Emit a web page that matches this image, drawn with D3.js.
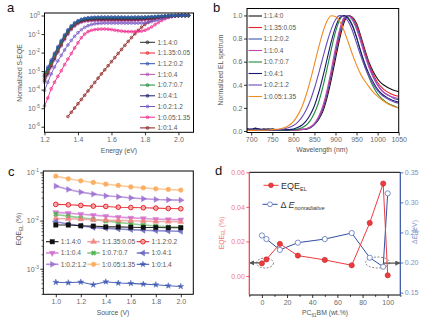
<!DOCTYPE html>
<html><head><meta charset="utf-8">
<script src="https://cdn.jsdelivr.net/npm/d3@7"></script>
<style>
html,body{margin:0;padding:0;background:#fff;}
svg{display:block;font-family:"Liberation Sans",Arial,sans-serif;}
</style></head><body>
<svg id="fig" width="434" height="321"></svg>
<script>
// ---------------- data: (a) normalized S-EQE, stored as log10 values ----------------
const ratioLabels = ["1:1.4:0","1:1.35:0.05","1:1.2:0.2","1:1:0.4","1:0.7:0.7","1:0.4:1","1:0.2:1.2","1:0.05:1.35","1:0:1.4"];
const energy = [1.20,1.22,1.24,1.26,1.28,1.30,1.32,1.34,1.36,1.38,1.40,1.42,1.44,1.46,1.48,1.50,1.52,1.54,1.56,1.58,1.60,1.62,1.64,1.66,1.68,1.70,1.72,1.74,1.76,1.78,1.80,1.82,1.84,1.86,1.88,1.90,1.92,1.94,1.96,1.98,2.00,2.02,2.04,2.06];
const seqe_1_14_0   = [-3.5,-3.1,-2.7,-2.3,-1.92,-1.57,-1.24,-0.95,-0.7,-0.52,-0.39,-0.31,-0.26,-0.235,-0.22,-0.215,-0.21,-0.21,-0.21,-0.21,-0.21,-0.21,-0.21,-0.21,-0.21,-0.21,-0.21,-0.205,-0.2,-0.19,-0.18,-0.165,-0.145,-0.122,-0.098,-0.074,-0.052,-0.034,-0.02,-0.01,-0.004,-0.001,0,0];
const seqe_1_135_005= [-3.4,-3.0,-2.6,-2.2,-1.83,-1.49,-1.17,-0.89,-0.66,-0.49,-0.37,-0.3,-0.25,-0.225,-0.21,-0.205,-0.2,-0.2,-0.2,-0.2,-0.2,-0.2,-0.2,-0.2,-0.2,-0.2,-0.2,-0.195,-0.19,-0.185,-0.175,-0.16,-0.14,-0.12,-0.095,-0.07,-0.05,-0.032,-0.018,-0.009,-0.003,0,0,0];
const seqe_1_12_02  = [-3.15,-2.78,-2.4,-2.03,-1.68,-1.35,-1.04,-0.77,-0.55,-0.39,-0.28,-0.2,-0.15,-0.12,-0.1,-0.09,-0.085,-0.08,-0.08,-0.08,-0.08,-0.08,-0.08,-0.08,-0.085,-0.085,-0.085,-0.08,-0.08,-0.08,-0.075,-0.07,-0.06,-0.05,-0.04,-0.03,-0.02,-0.012,-0.006,-0.003,-0.001,0,0,0];
const seqe_1_1_04   = [-3.6,-3.2,-2.8,-2.4,-2.01,-1.65,-1.31,-1.01,-0.76,-0.58,-0.45,-0.37,-0.32,-0.3,-0.29,-0.285,-0.28,-0.28,-0.28,-0.28,-0.28,-0.28,-0.28,-0.28,-0.28,-0.28,-0.275,-0.27,-0.265,-0.255,-0.24,-0.22,-0.195,-0.165,-0.135,-0.105,-0.077,-0.053,-0.033,-0.018,-0.008,-0.002,0,0];
const seqe_1_07_07  = [-3.3,-2.92,-2.53,-2.15,-1.78,-1.44,-1.12,-0.84,-0.6,-0.43,-0.31,-0.23,-0.18,-0.15,-0.13,-0.12,-0.115,-0.11,-0.11,-0.11,-0.11,-0.11,-0.11,-0.11,-0.11,-0.11,-0.11,-0.11,-0.105,-0.1,-0.095,-0.085,-0.075,-0.062,-0.05,-0.038,-0.026,-0.016,-0.009,-0.004,-0.001,0,0,0];
const seqe_1_04_1   = [-3.25,-2.87,-2.48,-2.1,-1.74,-1.41,-1.1,-0.83,-0.61,-0.45,-0.34,-0.27,-0.22,-0.2,-0.185,-0.175,-0.17,-0.17,-0.17,-0.17,-0.17,-0.17,-0.17,-0.17,-0.17,-0.17,-0.17,-0.17,-0.165,-0.16,-0.15,-0.14,-0.125,-0.105,-0.085,-0.065,-0.045,-0.03,-0.018,-0.01,-0.004,-0.001,0,0];
const seqe_1_02_12  = [-4.05,-3.6,-3.15,-2.78,-2.45,-2.15,-1.86,-1.59,-1.34,-1.12,-0.93,-0.77,-0.64,-0.55,-0.49,-0.45,-0.43,-0.42,-0.41,-0.41,-0.41,-0.41,-0.41,-0.41,-0.41,-0.41,-0.41,-0.41,-0.41,-0.41,-0.4,-0.37,-0.33,-0.28,-0.23,-0.18,-0.13,-0.09,-0.055,-0.03,-0.012,-0.003,0,0];
const seqe_1_005_135= [-4.88,-4.45,-3.95,-3.6,-3.28,-2.98,-2.65,-2.35,-2.05,-1.75,-1.47,-1.2,-1.0,-0.87,-0.8,-0.76,-0.74,-0.73,-0.73,-0.74,-0.76,-0.79,-0.82,-0.84,-0.86,-0.87,-0.87,-0.87,-0.86,-0.84,-0.8,-0.72,-0.62,-0.5,-0.38,-0.27,-0.18,-0.11,-0.06,-0.03,-0.01,0,0,0];
const seqe_1_0_14   = [null,null,null,null,null,null,null,-5.45,-5.22,-4.99,-4.76,-4.53,-4.3,-4.07,-3.84,-3.61,-3.38,-3.15,-2.93,-2.71,-2.49,-2.27,-2.05,-1.83,-1.61,-1.4,-1.19,-0.99,-0.8,-0.63,-0.48,-0.36,-0.26,-0.18,-0.12,-0.08,-0.05,-0.03,-0.02,-0.01,-0.005,0,0,0];
const seqeSeries = [seqe_1_14_0,seqe_1_135_005,seqe_1_12_02,seqe_1_1_04,seqe_1_07_07,seqe_1_04_1,seqe_1_02_12,seqe_1_005_135,seqe_1_0_14];
const seqeColors = ["#2a2a2a","#e8262d","#3452b4","#b455b4","#1d8c3c","#1c1c6e","#7256c2","#f0288c","#8c1c1c"];
const energyTicks = [1.2,1.4,1.6,1.8,2.0];

// ---------------- data: (b) normalized EL spectra ----------------
const wavelength = [690,700,710,720,730,740,750,760,770,780,790,800,810,820,830,840,850,860,870,880,890,900,910,920,930,940,950,960,970,980,990,1000,1010,1020,1030,1040,1050];
const el_1_14_0    = [0.02,0.015,0.025,0.01,0.02,0.012,0.018,0.01,0.012,0.008,0.01,0.008,0.01,0.012,0.015,0.028,0.055,0.1,0.17,0.29,0.445,0.625,0.8,0.936,0.998,0.985,0.93,0.82,0.70,0.59,0.51,0.45,0.41,0.385,0.365,0.35,0.34];
const el_1_135_005 = [0.006,0.005,0.007,0.005,0.006,0.005,0.006,0.005,0.006,0.006,0.007,0.008,0.01,0.013,0.018,0.032,0.06,0.11,0.19,0.317,0.48,0.66,0.83,0.955,1.0,0.98,0.92,0.81,0.69,0.58,0.49,0.42,0.375,0.345,0.325,0.31,0.30];
const el_1_12_02   = [0.012,0.02,0.01,0.018,0.008,0.015,0.01,0.012,0.008,0.01,0.009,0.01,0.012,0.014,0.018,0.03,0.058,0.11,0.193,0.325,0.494,0.682,0.854,0.969,0.998,0.97,0.90,0.79,0.67,0.56,0.47,0.40,0.35,0.32,0.30,0.28,0.27];
const el_1_1_04    = [0.005,0.006,0.005,0.006,0.005,0.006,0.005,0.006,0.007,0.007,0.008,0.01,0.012,0.015,0.02,0.035,0.066,0.125,0.216,0.355,0.53,0.72,0.88,0.98,0.995,0.96,0.88,0.77,0.65,0.545,0.46,0.395,0.35,0.32,0.30,0.29,0.28];
const el_1_07_07   = [0.005,0.005,0.006,0.005,0.006,0.005,0.006,0.006,0.007,0.008,0.01,0.012,0.017,0.028,0.05,0.09,0.155,0.249,0.381,0.539,0.707,0.857,0.962,1.0,0.98,0.92,0.81,0.68,0.56,0.46,0.38,0.32,0.28,0.25,0.23,0.215,0.20];
const el_1_04_1    = [0.02,0.012,0.022,0.015,0.01,0.018,0.012,0.01,0.012,0.01,0.012,0.018,0.03,0.05,0.085,0.14,0.219,0.331,0.469,0.622,0.773,0.899,0.979,0.999,0.975,0.91,0.81,0.69,0.58,0.49,0.42,0.36,0.32,0.295,0.275,0.26,0.25];
const el_1_02_12   = [0.006,0.005,0.006,0.005,0.006,0.007,0.008,0.01,0.014,0.02,0.03,0.047,0.075,0.118,0.18,0.262,0.37,0.497,0.634,0.768,0.882,0.963,0.998,0.99,0.95,0.87,0.76,0.65,0.55,0.47,0.40,0.35,0.31,0.285,0.265,0.25,0.24];
const el_1_005_135 = [0.005,0.005,0.006,0.006,0.007,0.009,0.012,0.015,0.02,0.03,0.05,0.082,0.133,0.205,0.307,0.434,0.577,0.723,0.854,0.951,0.997,0.99,0.95,0.87,0.77,0.665,0.57,0.49,0.43,0.38,0.335,0.30,0.27,0.245,0.225,0.21,0.20];
const elSeries = [el_1_14_0,el_1_135_005,el_1_12_02,el_1_1_04,el_1_07_07,el_1_04_1,el_1_02_12,el_1_005_135];
const elColors = ["#111111","#e8202a","#3a58b0","#c046b4","#1d8a3a","#1a1a6e","#6a4cb8","#f28a22"];
const wlTicks = [700,750,800,850,900,950,1000,1050];
const elTicks = [0,0.2,0.4,0.6,0.8,1.0];

// ---------------- data: (c) EQE_EL vs source voltage ----------------
const source = [1.0,1.1,1.2,1.3,1.4,1.5,1.6,1.7,1.8,1.9,2.0];
const eqe_1_14_0    = [0.0081,0.0081,0.0078,0.0077,0.0074,0.0074,0.0073,0.0072,0.0072,0.0071,0.0071];
const eqe_1_135_005 = [0.0111,0.0109,0.0107,0.0104,0.0102,0.0101,0.0099,0.0098,0.0096,0.0096,0.0095];
const eqe_1_12_02   = [0.0217,0.0213,0.0207,0.0200,0.0197,0.0190,0.0187,0.0185,0.0182,0.0179,0.0176];
const eqe_1_1_04    = [0.0148,0.0143,0.0136,0.0130,0.0124,0.0118,0.0114,0.0111,0.0107,0.0106,0.0104];
const eqe_1_07_07   = [0.0134,0.0124,0.0114,0.0106,0.0098,0.0092,0.0086,0.0081,0.0077,0.0074,0.0073];
const eqe_1_04_1    = [0.0095,0.0085,0.0078,0.0072,0.0069,0.0067,0.0065,0.0063,0.0062,0.0061,0.0060];
const eqe_1_02_12   = [0.0520,0.0444,0.0390,0.0355,0.0327,0.0312,0.0297,0.0284,0.0275,0.0270,0.0266];
const eqe_1_005_135 = [0.0838,0.0738,0.0670,0.0620,0.0571,0.0537,0.0501,0.0479,0.0457,0.0444,0.0430];
const eqe_1_0_14    = [0.000525,0.000513,0.000530,0.000466,0.000537,0.000505,0.000498,0.000481,0.000466,0.000444,0.000430];
const eqeSeries = [eqe_1_14_0,eqe_1_135_005,eqe_1_12_02,eqe_1_1_04,eqe_1_07_07,eqe_1_04_1,eqe_1_02_12,eqe_1_005_135,eqe_1_0_14];
const eqeLine   = ["#111111","#f4a3a3","#e8242c","#d88ad8","#86c886","#8080cc","#b590da","#fbc68e","#3a55b0"];
const eqeMark   = ["#111111","#f07f7f","#e8242c","#cf6acf","#45ad45","#6565bd","#9a6cd0","#f9a654","#3a55b0"];
const sourceTicks = [1.0,1.2,1.4,1.6,1.8,2.0];

// ---------------- data: (d) EQE_EL and ΔE_nonradiative vs PC61BM content ----------------
const pcbm = [0,3.6,14.3,28.6,50,71.4,85.7,96.4,100];
const eqeEL = [0.0073,0.0096,0.0186,0.0118,0.0093,0.0062,0.0307,0.0535,0.0004];
const dENonrad = [0.245,0.239,0.221,0.233,0.239,0.249,0.208,0.193,0.315];
const pcbmTicks = [0,20,40,60,80,100];
const eqeTicks = [0,0.02,0.04,0.06];
const dETicks = [0.15,0.2,0.25,0.3,0.35];

// ---------------- drawing ----------------
const svg = d3.select("#fig");
const TICK = "#6a6a6a", TITLE = "#555";

function tidy(g, lineCol, textCol) {
  g.select(".domain").remove();
  g.selectAll(".tick line").attr("stroke", lineCol || "#000").attr("stroke-width", 0.8);
  g.selectAll(".tick text").attr("fill", textCol || TICK).attr("font-size", 7);
}
function pow10(g) {
  g.selectAll(".tick text").each(function (d) {
    const e = Math.round(Math.log10(d));
    const t = d3.select(this).text("10");
    t.append("tspan").attr("dy", -3).attr("font-size", 4.8).text(e);
  });
}
function frame(g, x, y, col) {
  const [x0, x1] = x.range(), [y0, y1] = y.range();
  g.append("rect").attr("x", x0).attr("y", y1).attr("width", x1 - x0).attr("height", y0 - y1)
    .attr("fill", "none").attr("stroke", col || "#000").attr("stroke-width", 1);
}
function panelLabel(t, x, y) {
  svg.append("text").attr("x", x).attr("y", y).attr("font-size", 13).attr("fill", "#111").text(t);
}
function yTitle(g, x, y, parts, col) {
  const t = g.append("text").attr("transform", `translate(${x},${y}) rotate(-90)`)
    .attr("text-anchor", "middle").attr("font-size", 6.8).attr("fill", col || TITLE);
  parts.forEach(p => {
    const s = t.append("tspan").text(p.t);
    if (p.sub) s.attr("font-size", 4.6).attr("dy", 1.8);
    if (p.back) s.attr("dy", -1.8);
  });
  return t;
}

// ===== (a) =====
{
  const g = svg.append("g");
  const x = d3.scaleLinear().domain([1.2, 2.09]).range([44.5, 193.5]);
  const y = d3.scaleLog().domain([Math.pow(10, -6.3), Math.pow(10, 0.135)]).range([132.3, 13]);
  const gx = g.append("g").attr("transform", `translate(0,132.3)`)
    .call(d3.axisBottom(x).tickValues(energyTicks).tickSize(3).tickPadding(2).tickFormat(d3.format(".1f")));
  tidy(gx);
  const gy = g.append("g").attr("transform", `translate(44.5,0)`)
    .call(d3.axisLeft(y).tickValues([1e-6,1e-5,1e-4,1e-3,1e-2,1e-1,1]).tickSize(3).tickPadding(1.5));
  tidy(gy); pow10(gy);
  const line = d3.line().defined(d => d[1] != null).x(d => x(d[0])).y(d => y(Math.pow(10, d[1])));
  const order = [8,7,6,3,0,1,5,4,2];
  order.forEach(i => {
    const pts = energy.map((e, k) => [e, seqeSeries[i][k]]);
    g.append("path").attr("d", line(pts)).attr("fill", "none").attr("stroke", seqeColors[i]).attr("stroke-width", 0.9);
    g.append("g").selectAll("circle").data(pts.filter(d => d[1] != null)).join("circle")
      .attr("cx", d => x(d[0])).attr("cy", d => y(Math.pow(10, d[1]))).attr("r", 1.4)
      .attr("fill", seqeColors[i]).attr("fill-opacity", 0.35).attr("stroke", seqeColors[i]).attr("stroke-width", 0.6);
  });
  frame(g, x, y);
  // legend
  ratioLabels.forEach((lab, i) => {
    const yy = 42.3 + i * 10.7;
    g.append("line").attr("x1", 140).attr("x2", 155).attr("y1", yy).attr("y2", yy).attr("stroke", seqeColors[i]).attr("stroke-width", 1);
    g.append("circle").attr("cx", 147.5).attr("cy", yy).attr("r", 1.5).attr("fill", seqeColors[i]).attr("fill-opacity", 0.4).attr("stroke", seqeColors[i]).attr("stroke-width", 0.6);
    g.append("text").attr("x", 157.5).attr("y", yy + 2.3).attr("font-size", 6.5).attr("fill", "#555").text(lab);
  });
  g.append("text").attr("x", 119).attr("y", 153).attr("text-anchor", "middle").attr("font-size", 6.8).attr("fill", TITLE).text("Energy (eV)");
  yTitle(g, 22, 73, [{t: "Normalized S-EQE"}]);
  panelLabel("a", 7, 12);
}

// ===== (b) =====
{
  const g = svg.append("g");
  const x = d3.scaleLinear().domain([690, 1050]).range([247, 398.7]);
  const y = d3.scaleLinear().domain([-0.013, 1.06]).range([132.5, 8.5]);
  const gx = g.append("g").attr("transform", `translate(0,132.5)`)
    .call(d3.axisBottom(x).tickValues(wlTicks).tickSize(3).tickPadding(2).tickFormat(d3.format("d")));
  tidy(gx);
  const gy = g.append("g").attr("transform", `translate(247,0)`)
    .call(d3.axisLeft(y).tickValues(elTicks).tickSize(3).tickPadding(1.5).tickFormat(d3.format(".1f")));
  tidy(gy);
  const line = d3.line().x((d, k) => x(wavelength[k])).y(d => y(d)).curve(d3.curveMonotoneX);
  [0,1,2,3,4,5,6,7].forEach(i => {
    g.append("path").attr("d", line(elSeries[i])).attr("fill", "none").attr("stroke", elColors[i]).attr("stroke-width", 1.1);
  });
  frame(g, x, y);
  ratioLabels.slice(0, 8).forEach((lab, i) => {
    const yy = 16 + i * 11.5;
    g.append("line").attr("x1", 248.5).attr("x2", 262).attr("y1", yy).attr("y2", yy).attr("stroke", elColors[i]).attr("stroke-width", 1.1);
    g.append("text").attr("x", 263.5).attr("y", yy + 2.3).attr("font-size", 6.5).attr("fill", "#555").text(lab);
  });
  g.append("text").attr("x", 322).attr("y", 152).attr("text-anchor", "middle").attr("font-size", 6.8).attr("fill", TITLE).text("Wavelength (nm)");
  yTitle(g, 223, 70, [{t: "Normalized EL spetrum"}]);
  panelLabel("b", 213, 12);
}

// ===== (c) =====
{
  const g = svg.append("g");
  const x = d3.scaleLinear().domain([0.9, 2.1]).range([43.3, 193.3]);
  const y = d3.scaleLog().domain([Math.pow(10, -3.53), Math.pow(10, -0.97)]).range([294.3, 171]);
  const gx = g.append("g").attr("transform", `translate(0,294.3)`)
    .call(d3.axisBottom(x).tickValues(sourceTicks).tickSize(3).tickPadding(2).tickFormat(d3.format(".1f")));
  tidy(gx);
  const gy = g.append("g").attr("transform", `translate(43.3,0)`)
    .call(d3.axisLeft(y).tickValues([1e-3,1e-2,1e-1]).tickSize(3).tickPadding(1.5));
  tidy(gy); pow10(gy);
  const minor = [];
  [-4,-3,-2,-1].forEach(e => { for (let k = 2; k <= 9; k++) { const v = k * Math.pow(10, e); if (v > y.domain()[0] && v < y.domain()[1]) minor.push(v); } });
  g.append("g").attr("transform", `translate(43.3,0)`)
    .call(d3.axisLeft(y).tickValues(minor).tickSize(1.8).tickFormat(""))
    .call(a => { a.select(".domain").remove(); a.selectAll("line").attr("stroke", "#000").attr("stroke-width", 0.6); });
  const syms = [
    {t: d3.symbolSquare, s: 20, r: 0},
    {t: d3.symbolTriangle, s: 15, r: 0},
    {t: d3.symbolCircle, s: 17, r: 0, open: true},
    {t: d3.symbolTriangle, s: 15, r: 180},
    {t: d3.symbolCross, s: 14, r: 45},
    {t: d3.symbolTriangle, s: 15, r: -90},
    {t: d3.symbolTriangle, s: 15, r: 90},
    {t: d3.symbolCircle, s: 17, r: 0},
    {t: d3.symbolStar, s: 11, r: 0}
  ];
  const line = d3.line().x((d, k) => x(source[k])).y(d => y(d));
  const drawSym = (sel, i, cx, cy) => {
    const sy = syms[i];
    sel.append("path").attr("d", d3.symbol().type(sy.t).size(sy.s)())
      .attr("transform", `translate(${cx},${cy}) rotate(${sy.r})`)
      .attr("fill", sy.open ? "#f6a6a6" : eqeMark[i]).attr("fill-opacity", i === 0 ? 1 : 0.85)
      .attr("stroke", eqeMark[i]).attr("stroke-width", sy.open ? 1 : 0.4);
  };
  [8,6,7,3,4,1,5,0,2].forEach(i => {
    g.append("path").attr("d", line(eqeSeries[i])).attr("fill", "none").attr("stroke", eqeLine[i])
      .attr("stroke-width", i === 0 || i === 2 || i === 8 ? 1.1 : 1.6).attr("stroke-opacity", 0.9);
    const gs = g.append("g");
    eqeSeries[i].forEach((v, k) => drawSym(gs, i, x(source[k]), y(v)));
  });
  frame(g, x, y);
  const colX = [46, 87.3, 136.7];
  ratioLabels.forEach((lab, i) => {
    const c = i % 3, r = Math.floor(i / 3);
    const xx = colX[c], yy = 241.7 + r * 11.3;
    g.append("line").attr("x1", xx).attr("x2", xx + 12.5).attr("y1", yy).attr("y2", yy)
      .attr("stroke", eqeLine[i]).attr("stroke-width", i === 0 || i === 2 || i === 8 ? 1.1 : 1.6);
    drawSym(g, i, xx + 6.25, yy);
    g.append("text").attr("x", xx + 14.8).attr("y", yy + 2.4).attr("font-size", 6.6).attr("fill", "#555").text(lab);
  });
  g.append("text").attr("x", 113).attr("y", 315).attr("text-anchor", "middle").attr("font-size", 6.8).attr("fill", TITLE).text("Source (V)");
  yTitle(g, 21, 229, [{t: "EQE"}, {t: "EL", sub: true}, {t: " (%)", back: true}]);
  panelLabel("c", 8, 176);
}

// ===== (d) =====
{
  const g = svg.append("g");
  const RED = "#ee3b3f", RED_T = "#f27a7a", BLUE = "#2f4f9f", BLUE_T = "#7d8fc6";
  const x = d3.scaleLinear().domain([-10, 110]).range([249.3, 400.3]);
  const yL = d3.scaleLinear().domain([-0.011, 0.06]).range([295, 172.3]);
  const yR = d3.scaleLinear().domain([0.146, 0.35]).range([295, 172.3]);
  // annotation: dashed ellipses with arrows towards the matching axis
  const ell = (cx, cy, rx, ry) => g.append("ellipse").attr("cx", cx).attr("cy", cy).attr("rx", rx).attr("ry", ry)
    .attr("fill", "none").attr("stroke", "#555").attr("stroke-width", 0.7).attr("stroke-dasharray", "2,1.5");
  ell(x(2.5), yL(0.0075), 8.5, 5);
  ell(x(92), yR(0.2), 12, 5.5);
  const defs = svg.append("defs");
  defs.append("marker").attr("id", "ah").attr("viewBox", "0 0 6 6").attr("refX", 5).attr("refY", 3)
    .attr("markerWidth", 4).attr("markerHeight", 4).attr("orient", "auto")
    .append("path").attr("d", "M0,0L6,3L0,6Z").attr("fill", "#555");
  g.append("line").attr("x1", x(-2)).attr("x2", x(-9.5)).attr("y1", yL(0.0076)).attr("y2", yL(0.0076))
    .attr("stroke", "#555").attr("stroke-width", 1.3).attr("marker-end", "url(#ah)");
  g.append("line").attr("x1", x(96.5)).attr("x2", x(109.5)).attr("y1", yR(0.199)).attr("y2", yR(0.199))
    .attr("stroke", "#555").attr("stroke-width", 1.3).attr("marker-end", "url(#ah)");

  const gx = g.append("g").attr("transform", `translate(0,295)`)
    .call(d3.axisBottom(x).tickValues(pcbmTicks).tickSize(3).tickPadding(2));
  tidy(gx);
  const gxm = g.append("g").attr("transform", `translate(0,295)`)
    .call(d3.axisBottom(x).tickValues([-10,10,30,50,70,90,110]).tickSize(1.8).tickFormat(""));
  tidy(gxm);
  const gl = g.append("g").attr("transform", `translate(249.3,0)`)
    .call(d3.axisLeft(yL).tickValues(eqeTicks).tickSize(3).tickPadding(1.5).tickFormat(d3.format(".2f")));
  tidy(gl, RED, RED_T);
  const gr = g.append("g").attr("transform", `translate(400.3,0)`)
    .call(d3.axisRight(yR).tickValues(dETicks).tickSize(3).tickPadding(1.5).tickFormat(d3.format(".2f")));
  tidy(gr, BLUE, BLUE_T);

  const lineL = d3.line().x((d, k) => x(pcbm[k])).y(d => yL(d));
  const lineR = d3.line().x((d, k) => x(pcbm[k])).y(d => yR(d));
  g.append("path").attr("d", lineR(dENonrad)).attr("fill", "none").attr("stroke", BLUE).attr("stroke-width", 1);
  g.append("path").attr("d", lineL(eqeEL)).attr("fill", "none").attr("stroke", RED).attr("stroke-width", 1);
  g.append("g").selectAll("circle").data(dENonrad).join("circle")
    .attr("cx", (d, k) => x(pcbm[k])).attr("cy", d => yR(d)).attr("r", 2.6)
    .attr("fill", "#fff").attr("stroke", "#5b72bd").attr("stroke-width", 0.8);
  g.append("g").selectAll("circle").data(eqeEL).join("circle")
    .attr("cx", (d, k) => x(pcbm[k])).attr("cy", d => yL(d)).attr("r", 2.6)
    .attr("fill", RED).attr("stroke", "#c0282c").attr("stroke-width", 0.6);

  // axes frame: black top/bottom, coloured sides
  const [x0, x1] = x.range();
  g.append("line").attr("x1", x0).attr("x2", x1).attr("y1", 172.3).attr("y2", 172.3).attr("stroke", "#000");
  g.append("line").attr("x1", x0).attr("x2", x1).attr("y1", 295).attr("y2", 295).attr("stroke", "#000");
  g.append("line").attr("x1", x0).attr("x2", x0).attr("y1", 172.3).attr("y2", 295).attr("stroke", RED).attr("stroke-width", 1.2);
  g.append("line").attr("x1", x1).attr("x2", x1).attr("y1", 172.3).attr("y2", 295).attr("stroke", BLUE).attr("stroke-width", 1.2);

  // legend
  g.append("line").attr("x1", 263.5).attr("x2", 278.5).attr("y1", 185.3).attr("y2", 185.3).attr("stroke", RED);
  g.append("circle").attr("cx", 271).attr("cy", 185.3).attr("r", 2.4).attr("fill", RED).attr("stroke", "#c0282c").attr("stroke-width", 0.6);
  const t1 = g.append("text").attr("x", 281).attr("y", 188.6).attr("font-size", 9).attr("fill", "#333");
  t1.append("tspan").text("EQE"); t1.append("tspan").attr("font-size", 5.5).attr("dy", 2).text("EL");
  g.append("line").attr("x1", 262.5).attr("x2", 277.5).attr("y1", 204.3).attr("y2", 204.3).attr("stroke", BLUE);
  g.append("circle").attr("cx", 270).attr("cy", 204.3).attr("r", 2.4).attr("fill", "#fff").attr("stroke", "#5b72bd").attr("stroke-width", 0.8);
  const t2 = g.append("text").attr("x", 280.5).attr("y", 207.6).attr("font-size", 9).attr("fill", "#333");
  t2.append("tspan").text("Δ ");
  t2.append("tspan").attr("font-style", "italic").text("E");
  t2.append("tspan").attr("font-size", 5.5).attr("font-style", "italic").attr("dy", 2).text("nonradiative");

  const tx = g.append("text").attr("x", 325).attr("y", 315).attr("text-anchor", "middle").attr("font-size", 6.8).attr("fill", TITLE);
  tx.append("tspan").text("PC"); tx.append("tspan").attr("font-size", 4.6).attr("dy", 1.8).text("61");
  tx.append("tspan").attr("dy", -1.8).text("BM (wt.%)");
  yTitle(g, 223.5, 233, [{t: "EQE"}, {t: "EL", sub: true}, {t: " (%)", back: true}], RED_T);
  const tr = g.append("text").attr("transform", `translate(417,232) rotate(-90)`).attr("text-anchor", "middle")
    .attr("font-size", 6.8).attr("fill", BLUE_T);
  tr.append("tspan").text("Δ"); tr.append("tspan").attr("font-style", "italic").text("E"); tr.append("tspan").text(" (eV)");
  panelLabel("d", 215, 175);
}
</script>
</body></html>
